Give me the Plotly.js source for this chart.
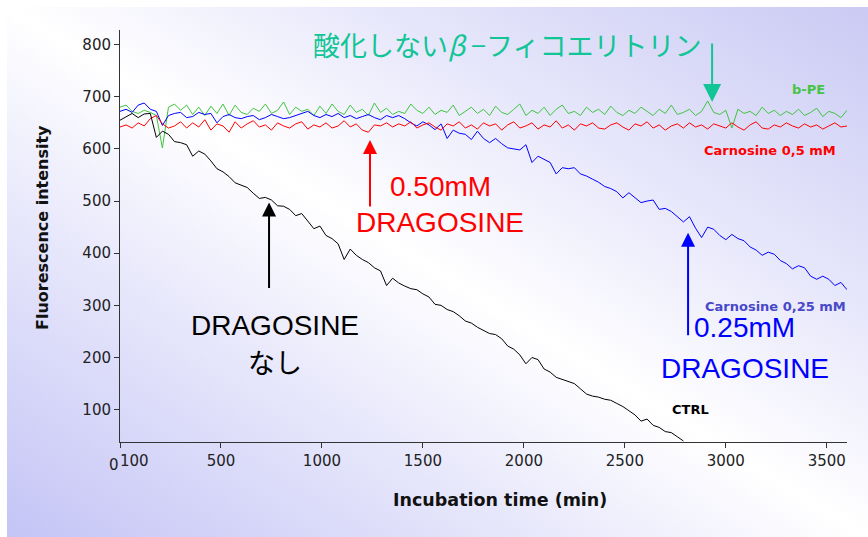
<!DOCTYPE html>
<html>
<head>
<meta charset="utf-8">
<script src="https://cdn.plot.ly/plotly-3.0.1.min.js"></script>
<style>
  html, body { margin: 0; padding: 0; background: #ffffff; }
  #bg { position: absolute; left: 7px; top: 7px; width: 861px; height: 530px;
        background: linear-gradient(to top right, #c4c4f6 0%, #e4e4fb 28%, #ffffff 50%, #e6e6fb 72%, #cacaf4 100%); }
  #chart { position: absolute; left: 0; top: 0; width: 868px; height: 537px; }
</style>
</head>
<body>
<div id="bg"></div>
<div id="chart"></div>
<script>
// ---- data (minutes, fluorescence intensity) ----
const times = [0,30,60,90,120,150,180,210,240,270,300,330,360,390,420,450,480,510,540,570,
  600,630,660,690,720,750,780,810,840,870,900,930,960,990,1020,1050,1080,1110,1140,1170,
  1200,1230,1260,1290,1320,1350,1380,1410,1440,1470,1500,1530,1560,1590,1620,1650,1680,1710,1740,1770,
  1800,1830,1860,1890,1920,1950,1980,2010,2040,2070,2100,2130,2160,2190,2220,2250,2280,2310,2340,2370,
  2400,2430,2460,2490,2520,2550,2580,2610,2640,2670,2700,2730,2760,2790,2820,2850,2880,2910,2940,2970,
  3000,3030,3060,3090,3120,3150,3180,3210,3240,3270,3300,3330,3360,3390,3420,3450,3480,3510,3540,3570,3600];

const ctrlTimes = [0,30,60,90,120,150,180,210,240,270,300,330,360,390,420,450,480,510,540,570,
  600,630,660,690,720,750,780,810,840,870,900,930,960,990,1020,1050,1080,1110,1140,1170,
  1200,1230,1260,1290,1320,1350,1380,1410,1440,1470,1500,1530,1560,1590,1620,1650,1680,1710,1740,1770,
  1800,1830,1860,1890,1920,1950,1980,2010,2040,2070,2100,2130,2160,2190,2220,2250,2280,2310,2340,2370,
  2400,2430,2460,2490,2520,2550,2580,2610,2640,2670,2700,2730,2760,2790];
const ctrl = [655,662,668,660,667,668,622,634,628,614,612,608,586,596,590,577,562,556,547,535,
  530,526,515,505,507,502,491,490,484,472,476,462,447,452,434,428,418,388,408,396,
  388,382,372,366,338,352,343,337,332,330,322,316,302,300,292,288,280,270,266,258,
  252,246,244,236,222,216,205,188,200,196,178,172,162,158,154,150,140,130,126,124,
  120,118,112,106,98,90,78,82,70,66,58,56,48,40];

const bPE = [680,684,672,668,674,670,664,602,680,686,674,684,666,680,664,682,668,686,664,684,
  670,666,678,672,686,668,674,690,666,680,672,676,664,682,668,686,672,666,684,670,
  676,664,688,670,678,666,672,668,686,674,668,680,666,674,670,684,664,672,680,668,
  676,664,682,670,666,676,686,664,674,668,680,664,676,684,668,672,664,680,670,676,
  666,682,670,664,674,668,680,672,664,676,668,684,666,670,676,664,672,692,670,666,
  674,640,676,668,672,664,680,668,674,664,672,666,676,664,670,678,662,672,668,660,674];

const carn05 = [642,646,640,650,644,658,664,648,640,644,652,640,650,642,656,636,648,644,632,652,
  640,648,654,642,646,636,650,644,640,648,652,638,646,642,650,640,644,654,642,648,
  636,632,646,644,650,642,648,644,652,640,646,650,642,636,648,644,652,640,646,638,
  650,644,648,636,646,652,640,644,650,638,646,642,654,640,646,636,648,644,650,640,
  638,646,650,642,636,648,644,652,640,646,636,644,648,640,650,642,646,638,648,644,
  640,650,642,636,646,652,640,638,646,642,650,644,640,648,642,646,638,644,650,642,644];

const carn025 = [672,676,670,684,688,676,672,645,664,668,670,660,662,670,666,668,650,662,666,660,
  658,662,664,656,660,666,662,658,660,664,668,672,664,660,666,662,668,660,664,658,
  662,666,660,656,664,660,664,658,650,644,652,646,637,648,620,636,630,628,618,634,
  620,612,620,610,602,600,598,608,574,586,580,574,552,564,562,564,552,548,542,536,
  528,524,518,506,516,506,497,500,502,484,486,480,470,460,470,448,430,450,446,434,
  426,436,428,424,412,406,396,402,398,386,380,370,376,372,356,350,356,350,338,344,330];

const xTickVals = [0,500,1000,1500,2000,2500,3000,3500];
const xTickText = ['','500','1000','1500','2000','2500','3000','3500'];
const yTickVals = [100,200,300,400,500,600,700,800];

const lineW = 1;
const traces = [
  {x: times, y: bPE, mode: 'lines', line: {color: '#3fc43f', width: lineW}, name: 'b-PE'},
  {x: times, y: carn025, mode: 'lines', line: {color: '#0000ff', width: lineW}, name: 'Carnosine 0,25 mM'},
  {x: times, y: carn05, mode: 'lines', line: {color: '#ff0000', width: lineW}, name: 'Carnosine 0,5 mM'},
  {x: ctrlTimes, y: ctrl, mode: 'lines', line: {color: '#000000', width: lineW}, name: 'CTRL'}
];

const bigFont = {family: 'Liberation Sans, Arial, sans-serif', size: 28};
const jpFont = {family: 'Noto Sans CJK JP, sans-serif', size: 27};
const lblFont = {family: 'DejaVu Sans, Verdana, sans-serif', size: 13};
const tickFontSpec = {family: 'DejaVu Sans, Verdana, sans-serif', size: 15};
const axTitleFont = {family: 'DejaVu Sans, Verdana, sans-serif', size: 17.5};

function txt(x, y, text, font, color, xanchor) {
  return {xref: 'paper', yref: 'paper', x: x, y: y, text: text, showarrow: false,
          font: Object.assign({}, font, {color: color}), xanchor: xanchor || 'center', yanchor: 'middle'};
}
// pixel helpers for annotation placement (paper coords)
const L = 120, T = 30, W = 727, H = 412;
function px(xp) { return (xp - L) / W; }
function py(yp) { return 1 - (yp - T) / H; }

const annotations = [
  // teal title
  {xref: 'paper', yref: 'paper', x: px(311), y: py(45), xanchor: 'left', yanchor: 'middle', showarrow: false,
   text: '酸化しない<i>β</i> −フィコエリトリン', font: {family: 'Noto Sans CJK JP, sans-serif', size: 27, color: '#12c596'}},
  // arrows
  {x: 2932, y: 690, ax: 0, ay: -60, text: '', showarrow: true, arrowhead: 2, arrowsize: 1.8, arrowwidth: 2, arrowcolor: '#12c596'},
  {x: 1238, y: 617, ax: 0, ay: 68, text: '', showarrow: true, arrowhead: 2, arrowsize: 1.4, arrowwidth: 2, arrowcolor: '#ff0000'},
  {x: 738, y: 497, ax: 0, ay: 87, text: '', showarrow: true, arrowhead: 2, arrowsize: 1.4, arrowwidth: 2, arrowcolor: '#000000'},
  {x: 2813, y: 439, ax: 0, ay: 104, text: '', showarrow: true, arrowhead: 2, arrowsize: 1.4, arrowwidth: 2, arrowcolor: '#0000ff'},
  // red labels
  txt(px(388), py(186), '0.50mM', bigFont, '#ff0000', 'left'),
  txt(px(440), py(222), 'DRAGOSINE', bigFont, '#ff0000'),
  // black labels
  txt(px(275), py(325), 'DRAGOSINE', bigFont, '#000000'),
  txt(px(275), py(361), 'なし', jpFont, '#000000'),
  // blue labels
  txt(px(692), py(327), '0.25mM', bigFont, '#0000ff', 'left'),
  txt(px(745), py(368), 'DRAGOSINE', bigFont, '#0000ff'),
  // series labels
  txt(px(808), py(89), '<b>b-PE</b>', lblFont, '#44c444'),
  txt(px(770), py(150), '<b>Carnosine 0,5 mM</b>', lblFont, '#ff0000'),
  txt(px(775), py(306), '<b>Carnosine 0,25 mM</b>', lblFont, '#4848c8'),
  txt(px(690), py(409), '<b>CTRL</b>', lblFont, '#000000'),
  // x-axis start labels "0" and "100"
  txt(px(114), py(465), '0', tickFontSpec, '#222222'),
  txt(px(134), py(461), '100', tickFontSpec, '#222222'),
  // axis titles
  txt(px(500), py(500), '<b>Incubation time (min)</b>', axTitleFont, '#111111'),
  Object.assign(txt(px(42), py(228), '<b>Fluorescence intensity</b>', {family: axTitleFont.family, size: 16}, '#111111'), {textangle: -90})
];

const layout = {
  width: 868, height: 537,
  margin: {l: L, r: 868 - L - W, t: T, b: 537 - T - H},
  paper_bgcolor: 'rgba(0,0,0,0)',
  plot_bgcolor: 'rgba(0,0,0,0)',
  showlegend: false,
  font: {family: 'DejaVu Sans, Verdana, sans-serif', color: '#222222'},
  xaxis: {
    range: [0, 3600], showgrid: false, zeroline: false, showline: true, linecolor: '#333333', linewidth: 1,
    ticks: 'outside', ticklen: 5, tickcolor: '#333333', tickvals: xTickVals, ticktext: xTickText,
    tickfont: {size: 15, color: '#222222'}
  },
  yaxis: {
    range: [38, 828], showgrid: false, zeroline: false, showline: true, linecolor: '#333333', linewidth: 1,
    ticks: 'outside', ticklen: 5, tickcolor: '#333333', tickvals: yTickVals,
    tickfont: {size: 15, color: '#222222'}
  },
  annotations: annotations
};

Plotly.newPlot('chart', traces, layout, {displayModeBar: false, staticPlot: true});
</script>
</body>
</html>
